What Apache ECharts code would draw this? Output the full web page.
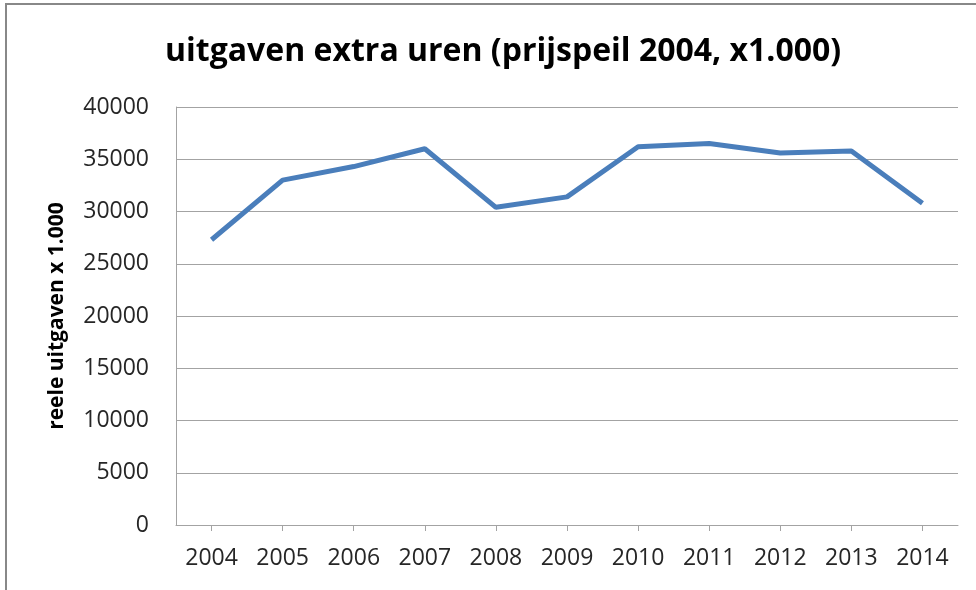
<!DOCTYPE html>
<html>
<head>
<meta charset="utf-8">
<script src="https://cdn.jsdelivr.net/npm/echarts@6/dist/echarts.min.js"></script>
<style>
  html, body { margin: 0; padding: 0; background: #fff; }
  #chart { width: 976px; height: 590px; }
</style>
</head>
<body>
<div id="chart"></div>
<script>
// jaren op de x-as
var years = ['2004', '2005', '2006', '2007', '2008', '2009', '2010', '2011', '2012', '2013', '2014']
// reele uitgaven x 1.000
var uitgaven = [27300, 33000, 34300, 36000, 30400, 31400, 36200, 36500, 35600, 35800, 30800]
// y-as bereik
var yMin = 0
var yMax = 40000
var yStep = 5000

var titleText = 'uitgaven extra uren (prijspeil 2004, x1.000)'
var yName = 'reele uitgaven x 1.000'

var font = 'Open Sans'
var textColor = '#262626'
var gridColor = '#a3a3a3'

var chart = echarts.init(document.getElementById('chart'))
chart.setOption({
  animation: false,
  title: {
    text: titleText,
    left: 160,
    top: 31,
    textStyle: {
      fontFamily: font,
      fontWeight: 'bold',
      fontSize: 32,
      color: '#000',
    },
  },
  grid: {
    left: 176,
    top: 107,
    right: 18,
    bottom: 65,
  },
  xAxis: {
    type: 'category',
    data: years,
    boundaryGap: true,
    axisLine: { lineStyle: { color: gridColor, width: 1 } },
    axisTick: { show: true, alignWithLabel: true, length: 6, lineStyle: { color: gridColor } },
    axisLabel: {
      margin: 22,
      fontFamily: font,
      fontSize: 23,
      color: textColor,
    },
  },
  yAxis: {
    type: 'value',
    min: yMin,
    max: yMax,
    interval: yStep,
    name: yName,
    nameLocation: 'middle',
    nameGap: 108,
    nameRotate: 90,
    nameTextStyle: {
      fontFamily: font,
      fontWeight: 'bold',
      fontSize: 21,
      color: '#000',
    },
    axisLine: { show: true, lineStyle: { color: gridColor, width: 1 } },
    axisTick: { show: false },
    splitLine: { lineStyle: { color: gridColor, width: 1 } },
    axisLabel: {
      margin: 27,
      fontFamily: font,
      fontSize: 23,
      color: textColor,
      formatter: function (v) {
        return String(v)
      },
    },
  },
  series: [
    {
      type: 'line',
      data: uitgaven,
      symbol: 'none',
      lineStyle: { color: '#4a7ebb', width: 5 },
    },
  ],
  graphic: [
    {
      type: 'rect',
      shape: { x: 6, y: 4, width: 1000, height: 700 },
      style: { fill: 'none', stroke: '#888', lineWidth: 2 },
      silent: true,
    },
  ],
})
</script>
</body>
</html>
